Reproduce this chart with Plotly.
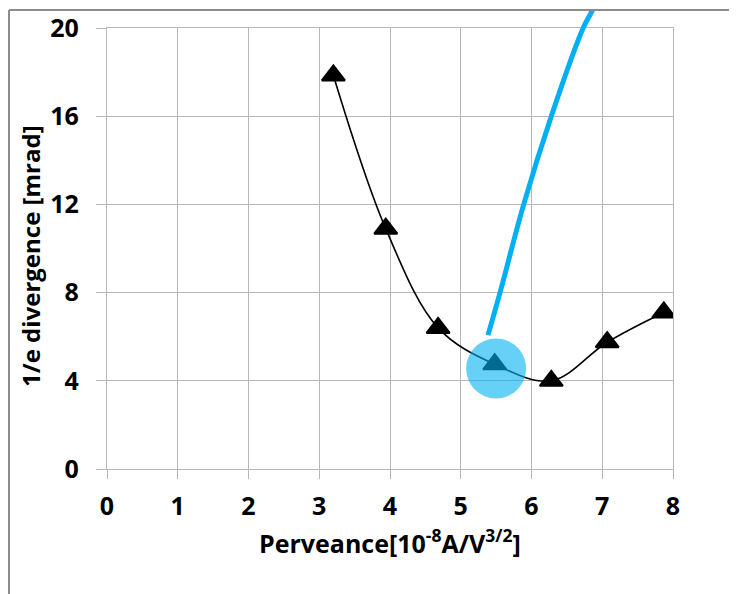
import plotly.graph_objects as go

# Measured data (triangles, black smoothed line)
perveance = [3.2, 3.94, 4.68, 5.48, 6.28, 7.07, 7.87]
divergence = [17.85, 10.9, 6.4, 4.75, 4.0, 5.75, 7.1]

# Blue curve
sim_perveance = [5.385, 5.555, 5.89, 6.28, 6.73, 6.86, 6.94]
sim_divergence = [6.07, 8.0, 12.0, 16.0, 20.0, 20.8, 21.4]

# Highlighted point (blue circle)
highlight_x = [5.5]
highlight_y = [4.56]

x_ticks = [0, 1, 2, 3, 4, 5, 6, 7, 8]
y_ticks = [0, 4, 8, 12, 16, 20]

x_title = "Perveance[10<sup>-8</sup>A/V<sup>3/2</sup>]"
y_title = "1/e divergence [mrad]"

# The page body adds an 8px offset, so the figure is 8px smaller
W, H = 729, 586
ML, MR, MT, MB = 99, 64, 2, 125
plot_w = W - ML - MR            # 566
plot_h = H - MT - MB            # 459
axis_bottom = H - MB            # 461 (y=0 line)
main_top_px = 20                # y=20 gridline
main_frac = (axis_bottom - main_top_px) / plot_h
y2_max = 20 / main_frac

grid = "#b8b8b8"
font = dict(family="Open Sans", size=24, color="#000000", weight="bold")
tickfont = dict(family="Open Sans", size=25, color="#000000", weight="bold")

fig = go.Figure()

fig.add_trace(go.Scatter(
    x=perveance, y=divergence, mode="lines+markers",
    line=dict(color="black", width=1.6, shape="spline", smoothing=1.0),
    marker=dict(symbol="triangle-up", size=20, color="black",
                line=dict(color="black", width=2)),
    xaxis="x", yaxis="y", showlegend=False, hoverinfo="skip"))

fig.add_trace(go.Scatter(
    x=highlight_x, y=highlight_y, mode="markers",
    marker=dict(symbol="circle", size=60, color="rgba(0,176,240,0.6)"),
    xaxis="x", yaxis="y", showlegend=False, hoverinfo="skip"))

fig.add_trace(go.Scatter(
    x=sim_perveance, y=sim_divergence, mode="lines",
    line=dict(color="#00b0f0", width=5, shape="spline", smoothing=1.0),
    xaxis="x2", yaxis="y2", showlegend=False, hoverinfo="skip"))

fig.update_layout(
    width=W, height=H, autosize=False,
    margin=dict(l=ML, r=MR, t=MT, b=MB, pad=0, autoexpand=False),
    paper_bgcolor="white", plot_bgcolor="rgba(0,0,0,0)",
    font=font,
    xaxis=dict(domain=[0, 1], range=[0, 8], tickvals=x_ticks,
               ticktext=[str(v) for v in x_ticks],
               showgrid=True, gridcolor=grid, gridwidth=1.2,
               ticks="outside", ticklen=9, tickcolor=grid, tickwidth=1.2,
               showline=True, linecolor=grid, linewidth=1.2, mirror=True,
               zeroline=False, tickfont=tickfont, ticklabelstandoff=6,
               automargin=False, anchor="y"),
    yaxis=dict(domain=[0, main_frac], range=[0, 20], tickvals=y_ticks,
               ticktext=[str(v) for v in y_ticks],
               showgrid=True, gridcolor=grid, gridwidth=1.2,
               ticks="outside", ticklen=10, tickcolor=grid, tickwidth=1.2,
               showline=True, linecolor=grid, linewidth=1.2, mirror=True,
               zeroline=False, tickfont=tickfont, ticklabelstandoff=12,
               automargin=False, anchor="x"),
    xaxis2=dict(domain=[0, 1], range=[0, 8], visible=False, anchor="y2",
                showgrid=False, zeroline=False, automargin=False),
    yaxis2=dict(domain=[0, 1], range=[0, y2_max], visible=False, anchor="x2",
                showgrid=False, zeroline=False, automargin=False),
)

# Axis titles
fig.add_annotation(text=x_title, xref="paper", yref="paper",
                   x=(382 - ML) / plot_w, y=(axis_bottom - 533) / plot_h,
                   xanchor="center", yanchor="middle", showarrow=False,
                   font=dict(family="Open Sans", size=25, color="#000000", weight="bold"))
fig.add_annotation(text=y_title, xref="paper", yref="paper",
                   x=(22 - ML) / plot_w, y=(axis_bottom - 248) / plot_h,
                   xanchor="center", yanchor="middle", textangle=-90,
                   showarrow=False, font=font)

# Outer picture frame (left and top edges)
left_x = (1 - ML) / plot_w
right_x = (W + 5 - ML) / plot_w
bottom_y = (axis_bottom - (H + 5)) / plot_h
fig.add_shape(type="line", xref="paper", yref="paper",
              x0=left_x, x1=left_x, y0=bottom_y, y1=1.0,
              line=dict(color="#8c8c8c", width=2))
fig.add_shape(type="line", xref="paper", yref="paper",
              x0=left_x, x1=right_x, y0=1.0, y1=1.0,
              line=dict(color="#8c8c8c", width=2))

fig.write_html("out.html")
